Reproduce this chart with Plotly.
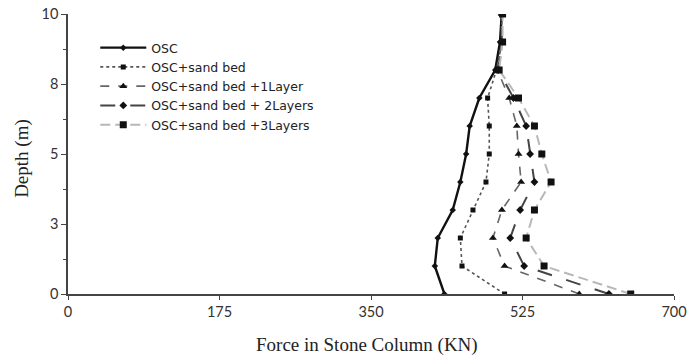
import plotly.graph_objects as go

depth = [0, 1, 2, 3, 4, 5, 6, 7, 8, 9, 10]
osc = [434.8, 423.7, 427.1, 444.4, 453.2, 459.9, 464.0, 475.1, 493.5, 499.0, 501.0]
sand_bed = [504.3, 455.1, 453.2, 467.8, 482.8, 486.6, 486.6, 484.7, 495.0, 501.0, 501.0]
layer1 = [590.6, 504.3, 490.8, 501.2, 523.4, 520.4, 518.4, 509.7, 496.0, 501.0, 501.0]
layer2 = [624.8, 526.9, 510.8, 522.3, 538.8, 533.8, 529.2, 514.6, 497.0, 501.0, 501.0]
layer3 = [650.0, 549.9, 529.2, 538.8, 558.0, 547.3, 538.8, 520.4, 498.0, 502.0, 502.0]

names = ["OSC", "OSC+sand bed", "OSC+sand bed +1Layer", "OSC+sand bed + 2Layers", "OSC+sand bed +3Layers"]
y_tickvals = [0, 2.5, 5, 7.5, 10]
y_ticktext = ["0", "3", "5", "8", "10"]
x_tickvals = [0, 175, 350, 525, 700]
x_title = "Force in Stone Column (KN)"
y_title = "Depth (m)"

styles = [
    dict(line=dict(color="#111111", width=2.4, dash="solid"), marker=dict(symbol="diamond", size=5, color="#111111")),
    dict(line=dict(color="#555555", width=1.6, dash="dot"), marker=dict(symbol="square", size=5, color="#111111")),
    dict(line=dict(color="#666666", width=1.6, dash="dash"), marker=dict(symbol="triangle-up", size=7, color="#111111")),
    dict(line=dict(color="#444444", width=2, dash="longdash"), marker=dict(symbol="diamond", size=6, color="#111111")),
    dict(line=dict(color="#b8b8b8", width=2, dash="10px,5px"), marker=dict(symbol="square", size=7, color="#111111")),
]

fig = go.Figure()
series = [osc, sand_bed, layer1, layer2, layer3]
for nm, xs, st in zip(names, series, styles):
    fig.add_trace(go.Scatter(x=xs, y=depth, mode="lines+markers", name=nm,
                             line=st["line"], marker=st["marker"]))

axis_font = dict(family="Lato, Open Sans, sans-serif", size=14.5, color="#333333")
title_font = dict(family="Liberation Serif, Times New Roman, serif", size=19, color="#222222")
fig.update_layout(
    width=687, height=361,
    margin=dict(l=68, r=13, t=14, b=67),
    paper_bgcolor="white", plot_bgcolor="white",
    showlegend=True,
    legend=dict(x=0.045, y=0.932, xanchor="left", yanchor="top",
                font=dict(family="DejaVu Sans, sans-serif", size=12.5, color="#222222"),
                bgcolor="rgba(0,0,0,0)", tracegroupgap=0, itemwidth=46),
    xaxis=dict(range=[0, 700], tickvals=x_tickvals, ticks="outside", ticklen=4,
               tickcolor="#444444", showline=True, linecolor="#444444", linewidth=1.5,
               showgrid=False, zeroline=False, tickfont=axis_font, ticklabeloverflow="allow",
               automargin=False),
    yaxis=dict(range=[0, 10], tickvals=y_tickvals, ticktext=y_ticktext, ticks="outside", ticklen=5,
               tickcolor="#444444", showline=True, linecolor="#444444", linewidth=1.5,
               showgrid=False, zeroline=False, tickfont=axis_font, automargin=False,
               minor=dict(tickvals=[1.25, 3.75, 6.25, 8.75], ticks="outside", ticklen=3, tickcolor="#444444")),
    xaxis2=dict(range=[0, 700], tickvals=x_tickvals, ticks="inside", ticklen=4, tickcolor="#444444",
                overlaying="x", anchor="y", side="bottom", showticklabels=False, showgrid=False,
                zeroline=False, showline=False, automargin=False),
    yaxis2=dict(range=[0, 10], tickvals=y_tickvals, ticks="inside", ticklen=4, tickcolor="#444444",
                overlaying="y", anchor="x", side="left", showticklabels=False, showgrid=False,
                zeroline=False, showline=False, automargin=False),
    annotations=[
        dict(text=x_title, xref="paper", yref="paper", x=0.493, y=-0.182, xanchor="center", yanchor="middle",
             showarrow=False, font=title_font),
        dict(text=y_title, xref="paper", yref="paper", x=-0.076, y=0.486, xanchor="center", yanchor="middle",
             textangle=-90, showarrow=False, font=title_font),
    ],
)

fig.write_html("out.html")
